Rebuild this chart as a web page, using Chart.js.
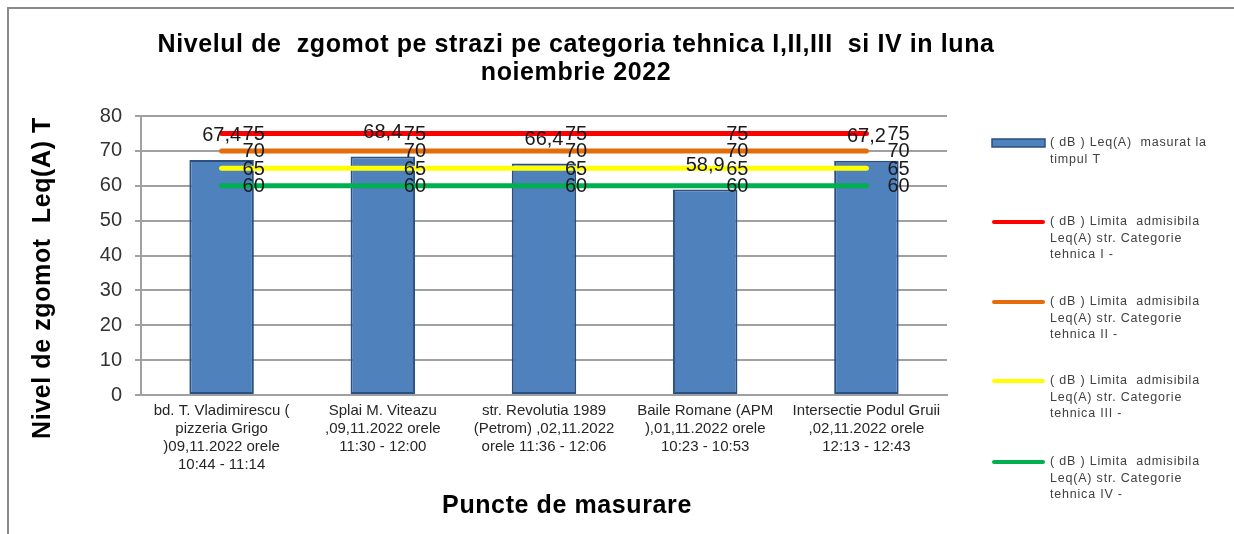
<!DOCTYPE html>
<html>
<head>
<meta charset="utf-8">
<script src="https://cdn.jsdelivr.net/npm/chart.js@4.4.0/dist/chart.umd.min.js"></script>
<style>
  html, body { margin: 0; padding: 0; background: #fff; }
  #wrap { width: 1234px; height: 534px; }
</style>
</head>
<body>
<div id="wrap"><canvas id="chart" width="1234" height="534"></canvas></div>
<script>
// data
const categories = [
  ['bd. T. Vladimirescu (', 'pizzeria Grigo', ')09,11.2022 orele', '10:44 - 11:14'],
  ['Splai M. Viteazu', ',09,11.2022 orele', '11:30 - 12:00'],
  ['str. Revolutia 1989', '(Petrom) ,02,11.2022', 'orele 11:36 - 12:06'],
  ['Baile Romane (APM', '),01,11.2022 orele', '10:23 - 10:53'],
  ['Intersectie Podul Gruii', ',02,11.2022 orele', '12:13 - 12:43']
];
const measured = [67.4, 68.4, 66.4, 58.9, 67.2];
const limitI = [75, 75, 75, 75, 75];
const limitII = [70, 70, 70, 70, 70];
const limitIII = [65, 65, 65, 65, 65];
const limitIV = [60, 60, 60, 60, 60];
const yMin = 0, yMax = 80, yStep = 10;

const titleLines = ['Nivelul de  zgomot pe strazi pe categoria tehnica I,II,III  si IV in luna', 'noiembrie 2022'];
const yTitle = 'Nivel de zgomot  Leq(A) T';
const xTitle = 'Puncte de masurare';
const seriesNames = [
  ['( dB ) Leq(A)  masurat la', 'timpul T'],
  ['( dB ) Limita  admisibila', 'Leq(A) str. Categorie', 'tehnica I -'],
  ['( dB ) Limita  admisibila', 'Leq(A) str. Categorie', 'tehnica II -'],
  ['( dB ) Limita  admisibila', 'Leq(A) str. Categorie', 'tehnica III -'],
  ['( dB ) Limita  admisibila', 'Leq(A) str. Categorie', 'tehnica IV -']
];

const FONT = '"Liberation Sans", Arial, sans-serif';
const barFill = '#4F81BD';
const barEdge = '#2A4F80';
const lineColors = ['#FF0000', '#E46C0A', '#FFFF00', '#00B050'];
const gridColor = '#A0A0A0';

function fmt(v) {
  return String(v).replace('.', ',');
}

// values on bars and on the limit lines
const labelPlugin = {
  id: 'valueLabels',
  afterDatasetsDraw(chart) {
    const ctx = chart.ctx;
    ctx.save();
    ctx.font = '20px ' + FONT;
    ctx.fillStyle = '#1a1a1a';
    ctx.textBaseline = 'middle';
    chart.data.datasets.forEach((ds, i) => {
      const meta = chart.getDatasetMeta(i);
      meta.data.forEach((el, j) => {
        const v = ds.data[j];
        if (ds.type === 'bar') {
          ctx.textAlign = 'center';
          ctx.fillText(fmt(v), el.x, el.y - 24);
        } else {
          ctx.textAlign = 'left';
          ctx.fillText(fmt(v), el.x + 21, el.y + 1);
        }
      });
    });
    ctx.restore();
  }
};

// frame, titles and legend
const decorPlugin = {
  id: 'decor',
  afterDraw(chart) {
    const ctx = chart.ctx;
    ctx.save();
    ctx.strokeStyle = '#8a8a8a';
    ctx.lineWidth = 2;
    ctx.beginPath();
    ctx.moveTo(8, 534);
    ctx.lineTo(8, 8);
    ctx.lineTo(1234, 8);
    ctx.stroke();

    ctx.fillStyle = '#000';
    ctx.textAlign = 'center';
    ctx.textBaseline = 'middle';
    ctx.font = 'bold 25px ' + FONT;
    ctx.letterSpacing = '0.6px';
    ctx.fillText(titleLines[0], 576, 45);
    ctx.fillText(titleLines[1], 576, 73);

    ctx.fillText(xTitle, 567, 506);

    ctx.save();
    ctx.translate(43, 278);
    ctx.rotate(-Math.PI / 2);
    ctx.fillText(yTitle, 0, 0);
    ctx.restore();

    // legend
    ctx.letterSpacing = '0.8px';
    ctx.font = '12.5px ' + FONT;
    ctx.textAlign = 'left';
    const ys = [143, 222, 302, 381, 462];
    seriesNames.forEach((lines, i) => {
      const y = ys[i];
      if (i === 0) {
        ctx.fillStyle = barFill;
        ctx.fillRect(992, y - 4, 53, 8);
        ctx.strokeStyle = barEdge;
        ctx.lineWidth = 1.5;
        ctx.strokeRect(992, y - 4, 53, 8);
      } else {
        ctx.strokeStyle = lineColors[i - 1];
        ctx.lineWidth = 4;
        ctx.lineCap = 'round';
        ctx.beginPath();
        ctx.moveTo(994, y);
        ctx.lineTo(1043, y);
        ctx.stroke();
      }
      ctx.fillStyle = '#404040';
      lines.forEach((t, k) => ctx.fillText(t, 1050, y + k * 16.5));
    });
    ctx.restore();
  }
};

function limitDataset(name, data, color) {
  return {
    type: 'line',
    label: name.join(' '),
    data: data,
    borderColor: color,
    backgroundColor: color,
    borderWidth: 5,
    borderCapStyle: 'round',
    pointRadius: 0,
    fill: false,
    order: 0
  };
}

new Chart(document.getElementById('chart'), {
  type: 'bar',
  data: {
    labels: categories,
    datasets: [
      {
        type: 'bar',
        label: seriesNames[0].join(' '),
        data: measured,
        backgroundColor: barFill,
        borderColor: barEdge,
        borderWidth: 2,
        borderSkipped: false,
        categoryPercentage: 1,
        barPercentage: 0.4,
        order: 1
      },
      limitDataset(seriesNames[1], limitI, lineColors[0]),
      limitDataset(seriesNames[2], limitII, lineColors[1]),
      limitDataset(seriesNames[3], limitIII, lineColors[2]),
      limitDataset(seriesNames[4], limitIV, lineColors[3])
    ]
  },
  options: {
    responsive: false,
    animation: false,
    layout: { padding: { left: 0, top: 116, right: 287, bottom: 0 } },
    plugins: {
      legend: { display: false },
      title: { display: false },
      tooltip: { enabled: false }
    },
    scales: {
      x: {
        grid: { display: false, drawTicks: false },
        border: { display: true, color: gridColor, width: 2 },
        ticks: {
          padding: 7,
          maxRotation: 0,
          autoSkip: false,
          color: '#262626',
          font: { family: FONT, size: 15, lineHeight: 1.2 }
        },
        afterFit(scale) { scale.height = 139; }
      },
      y: {
        min: yMin,
        max: yMax,
        ticks: {
          stepSize: yStep,
          padding: 13,
          color: '#333',
          font: { family: FONT, size: 20 }
        },
        grid: { color: gridColor, lineWidth: 2, tickLength: 6 },
        border: { display: true, color: gridColor, width: 2 },
        afterFit(scale) { scale.width = 141; }
      }
    }
  },
  plugins: [labelPlugin, decorPlugin]
});
</script>
</body>
</html>
